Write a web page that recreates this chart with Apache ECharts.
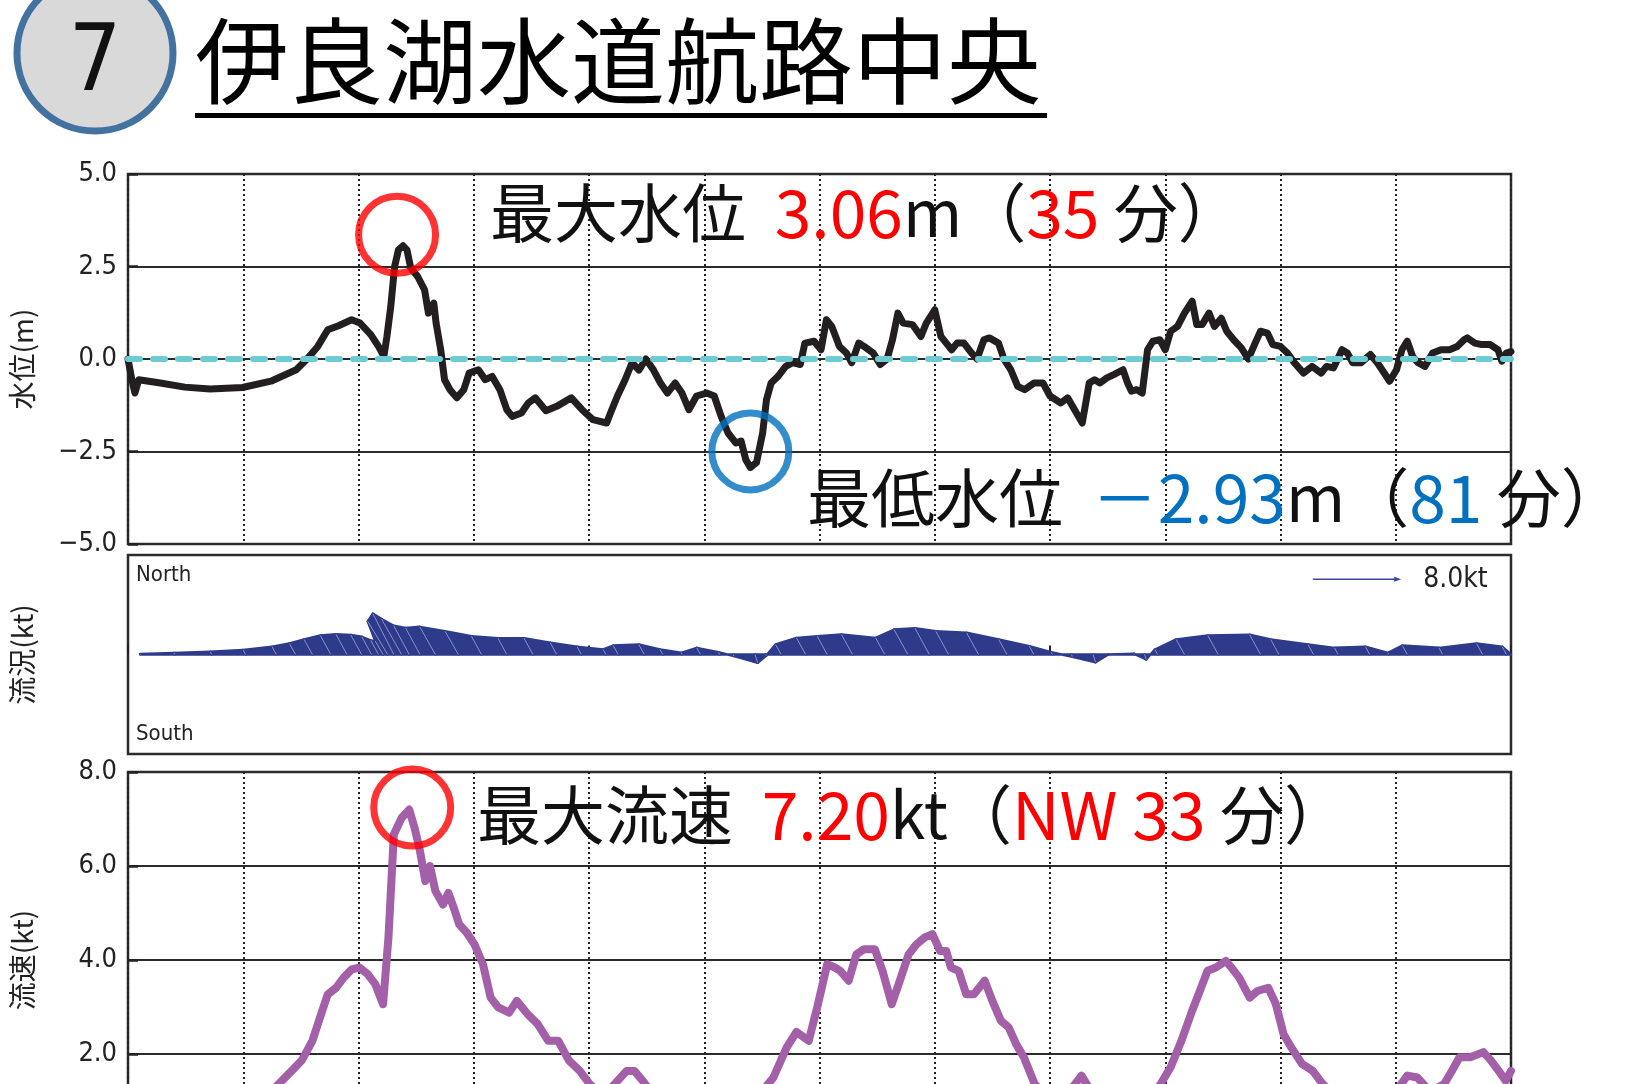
<!DOCTYPE html>
<html>
<head>
<meta charset="utf-8">
<title>伊良湖水道航路中央</title>
<script src="https://cdn.jsdelivr.net/npm/echarts@6/dist/echarts.min.js"></script>
<style>
  html, body { margin: 0; padding: 0; background: #fff; overflow: hidden; }
  #wrap { width: 1633px; height: 1084px; overflow: hidden; }
  #chart { width: 1633px; height: 1200px; }
</style>
</head>
<body>
<div id="wrap"><div id="chart"></div></div>
<script>
// 水位 (m) 経過時間(分)
const levelMinutes = [0, 0.5, 0.9, 1.4, 4.2, 7.4, 10.7, 14.9, 18.6, 21.9,
  23.3, 24.7, 26, 27.4, 29.1, 30.2, 31.6, 32.6, 33.3, 33.7,
  34.2, 34.7, 35.2, 35.8, 36.3, 36.8, 37.7, 38.6, 39.1, 39.8,
  40.1, 40.7, 41.2, 41.9, 42.8, 43.7, 44.4, 45.6, 46.5, 47.4,
  48.4, 49.3, 50, 51.2, 52.1, 53, 54.4, 55.8, 57.7, 59.1,
  60.5, 62.3, 62.8, 63.7, 64.7, 65.6, 66.5, 67.4, 68.4, 69.3,
  70.2, 71.2, 72.1, 73, 74, 75.3, 76.3, 77.2, 78.1, 79.1,
  79.8, 80.4, 81, 81.8, 82.6, 83.1, 83.7, 84.6, 85.6, 86.5,
  87.5, 88.1, 89.3, 90.2, 90.9, 91.6, 92.6, 93.5, 94.2, 95.1,
  95.8, 97, 97.9, 98.8, 99.5, 100.2, 100.9, 102.1, 103.2, 103.9,
  105, 105.8, 106.5, 107.2, 107.9, 108.8, 109.8, 110.5, 111.4, 112.1,
  113.3, 114, 114.9, 115.8, 116.7, 117.9, 119.1, 120, 121.4, 122.3,
  123.2, 124.2, 125.1, 125.8, 126.5, 127.4, 128.3, 129.5, 130.1, 130.6,
  131.3, 132, 132.7, 133.4, 134.3, 135, 135.7, 136.6, 137.5, 138.5,
  139.1, 139.8, 140.7, 141.4, 142.3, 143, 143.9, 144.9, 145.8, 146.7,
  147.4, 148.3, 149, 150, 150.9, 151.8, 153, 154.1, 155.3, 156,
  156.9, 158, 158.7, 159.4, 160.5, 161.7, 162.6, 163.5, 164.2, 165.1,
  165.8, 166.5, 167.2, 167.9, 168.8, 169.8, 170.9, 172, 173, 173.9,
  174.3, 175.3, 176.2, 177.3, 178.3, 178.8, 179.4, 180];
const levelMeters = [0, -0.56, -0.92, -0.56, -0.65, -0.76, -0.81, -0.77, -0.6, -0.29,
  0, 0.34, 0.79, 0.9, 1.06, 0.97, 0.66, 0.34, 0.07, 0.61,
  1.42, 2.5, 2.95, 3.06, 2.95, 2.46, 2.23, 1.87, 1.24, 1.51,
  0.97, 0.25, -0.56, -0.83, -1.05, -0.83, -0.38, -0.29, -0.56, -0.47,
  -0.83, -1.37, -1.55, -1.46, -1.19, -1.05, -1.4, -1.28, -1.05, -1.37,
  -1.64, -1.73, -1.46, -1.0, -0.56, -0.1, -0.3, 0, -0.3, -0.65,
  -0.92, -0.65, -0.92, -1.37, -1.0, -0.92, -1.0, -1.55, -2.0, -2.27,
  -2.22, -2.72, -2.93, -2.8, -2.0, -1.1, -0.65, -0.47, -0.2, -0.1,
  -0.15, 0.43, 0.48, 0.25, 1.06, 0.88, 0.34, 0.16, -0.1, 0.43,
  0.34, 0.16, -0.15, 0, 0.52, 1.24, 0.97, 0.93, 0.61, 0.97,
  1.33, 0.61, 0.43, 0.25, 0.43, 0.43, 0.16, 0, 0.52, 0.57,
  0.43, 0, -0.29, -0.74, -0.83, -0.65, -0.65, -1.0, -1.19, -1.05,
  -1.37, -1.73, -0.65, -0.56, -0.65, -0.51, -0.42, -0.29, -0.65, -0.87,
  -0.83, -0.92, 0.25, 0.48, 0.52, 0.25, 0.75, 0.88, 1.24, 1.56,
  0.93, 0.93, 1.24, 0.88, 1.1, 0.75, 0.52, 0.3, 0, 0.43,
  0.75, 0.7, 0.39, 0.34, 0.16, -0.1, -0.38, -0.2, -0.38, -0.2,
  -0.24, 0.25, 0.16, -0.1, -0.1, 0.12, -0.1, -0.38, -0.6, -0.29,
  0.25, 0.48, 0.07, -0.1, -0.2, 0.16, 0.25, 0.25, 0.34, 0.52,
  0.57, 0.43, 0.39, 0.39, 0.25, -0.06, 0.16, 0.2];

// 流速 (kt)
const speedMinutes = [0, 3, 6, 9, 12, 15, 18, 19.6, 21.3, 22.6,
  24, 25, 26, 27.1, 28.1, 29.1, 30.1, 31.2, 32.2, 33.2,
  33.9, 34.6, 35.6, 36.6, 37.3, 38, 38.7, 39.3, 40, 41,
  41.7, 42.4, 43.1, 44.1, 45.1, 46.2, 47.2, 48.2, 49.6, 50.6,
  52, 53.3, 54.7, 56, 57.4, 58.8, 60.1, 61.5, 63, 64.9,
  65.9, 67, 68.5, 70, 72, 74, 76, 78, 80, 81.3,
  82.5, 84, 85.7, 87, 88.6, 89.7, 91, 92, 92.7, 93.8,
  94.8, 95.8, 97.2, 98.2, 99.4, 100.6, 101.6, 102.6, 103.7, 104.7,
  105.7, 106.5, 107.1, 108.1, 109.1, 110.1, 111.5, 112.5, 113.6, 114.6,
  115.6, 116.6, 118, 119.5, 121, 122.5, 124.1, 125, 127, 129,
  131, 133, 134.4, 135.7, 137.1, 138.5, 139.5, 140.5, 141.6, 142.9,
  143.6, 144.6, 146, 147, 148.4, 149.4, 150.4, 151.4, 152.8, 154.2,
  155.5, 157, 159, 161, 163, 165, 166.5, 167.8, 169.5, 171.3,
  172.3, 173.3, 174.7, 176.4, 177.4, 178.4, 179.3, 180];
const speedKnots = [0.4, 0.5, 0.6, 0.7, 0.8, 0.9, 1.1, 1.36, 1.64, 1.86,
  2.28, 2.78, 3.27, 3.41, 3.63, 3.8, 3.84, 3.7, 3.48, 3.06,
  4.48, 6.67, 7.02, 7.2, 6.81, 6.32, 5.68, 6.0, 5.47, 5.18,
  5.43, 5.11, 4.76, 4.58, 4.33, 3.91, 3.2, 2.99, 2.88, 3.13,
  2.85, 2.64, 2.28, 2.28, 1.86, 1.64, 1.36, 1.15, 1.3, 1.64,
  1.64, 1.43, 1.1, 0.9, 0.7, 0.6, 0.5, 0.6, 0.8, 1.0,
  1.2, 1.5, 2.13, 2.47, 2.28, 2.99, 3.91, 3.84, 3.77, 3.56,
  4.12, 4.23, 4.23, 3.77, 3.06, 3.63, 4.12, 4.33, 4.48, 4.55,
  4.19, 4.19, 3.84, 3.77, 3.27, 3.27, 3.56, 3.13, 2.71, 2.57,
  2.21, 1.93, 1.36, 1.1, 1.0, 1.2, 1.54, 1.3, 1.0, 0.9,
  0.9, 1.1, 1.36, 1.72, 2.28, 2.92, 3.34, 3.77, 3.84, 3.98,
  3.84, 3.63, 3.2, 3.34, 3.41, 3.06, 2.42, 2.14, 1.79, 1.64,
  1.36, 1.1, 0.9, 0.8, 0.9, 1.2, 1.54, 1.5, 1.2, 1.36,
  1.64, 1.93, 1.93, 2.04, 1.86, 1.64, 1.43, 1.64];

// 流況 stick (北向き成分, 東向き成分 kt)
const flowMinutes = [1.6, 6.1, 10.9, 15.3, 19.3, 21.8, 24.0, 26.4, 28.5, 30.4,
  31.7, 32.6, 33.2, 33.8, 34.6, 35.6, 36.6, 38, 40, 43,
  46, 49.3, 52.7, 55.8, 59, 62.2, 63.8, 67.2, 69.6, 72.1,
  74.5, 77, 78.8, 81.6, 83, 85, 88.2, 91, 94.3, 98.5,
  101.5, 104.3, 106.8, 110.7, 114.4, 117.9, 120.3, 122.8, 125.6, 127.6,
  131, 132.3, 134, 137.5, 141.9, 147.4, 149.8, 154.3, 157.5, 161.6,
  164.1, 166.5, 171.1, 176.3, 179.4, 180];
const flowNorth = [0.05, 0.14, 0.24, 0.41, 0.7, 1.0, 1.36, 1.72, 1.84, 1.76,
  1.6, 1.27, 1.2, 3.0, 3.7, 3.2, 2.6, 2.4, 2.5, 2.1,
  1.65, 1.47, 1.47, 1.06, 0.7, 0.45, 0.81, 0.9, 0.45, 0.15,
  0.6, 0.2, -0.15, -0.75, -0.1, 0.9, 1.5, 1.65, 1.8, 1.5,
  2.26, 2.38, 2.1, 1.96, 1.36, 0.75, 0.2, -0.2, -0.7, 0.0,
  0.06, -0.45, 0.45, 1.36, 1.72, 1.78, 1.36, 0.9, 0.6, 0.7,
  0.15, 0.81, 0.6, 1.0, 0.7, 0.0];
const flowEast = [-0.03, -0.08, -0.13, -0.22, -0.38, -0.55, -0.75, -0.95, -1.0, -0.97,
  -0.88, -0.7, -0.7, -1.8, -1.9, -1.8, -1.4, -1.3, -1.4, -1.2,
  -0.9, -0.8, -0.8, -0.58, -0.38, -0.25, -0.45, -0.5, -0.25, -0.08,
  -0.33, -0.1, 0.05, 0.25, 0.05, -0.5, -0.83, -0.9, -1.0, -0.83,
  -1.25, -1.3, -1.15, -1.08, -0.75, -0.41, -0.1, 0.07, 0.23, 0,
  -0.03, 0.15, -0.25, -0.75, -0.95, -0.98, -0.75, -0.5, -0.33, -0.38,
  -0.08, -0.45, -0.33, -0.55, -0.38, 0];

// 凡例矢印 (分, 位置 kt, 長さ kt)
const scaleArrow = [154.2, 6.8, 8.0];

// 注記
const noteLevelMax = ['3.06', '35'];
const noteLevelMin = ['2.93', '81'];
const noteSpeedMax = ['7.20', 'NW', '33'];

const NARROW = "'Liberation Sans Narrow','DejaVu Sans Condensed','Liberation Sans',sans-serif";
const JP = "'Noto Sans CJK JP',sans-serif";
const NAVY = '#2e3a8a';

const zip = (a, b) => a.map((v, i) => [v, b[i]]);

const iMax = levelMeters.indexOf(Math.max(...levelMeters));
const iMin = levelMeters.indexOf(Math.min(...levelMeters));
const iSpd = speedKnots.indexOf(Math.max(...speedKnots));

const minusFmt = v => (v < 0 ? '\u2212' : '') + Math.abs(v).toFixed(1);

function xAxisDotted(gridIndex) {
  return {
    gridIndex, type: 'value', min: 0, max: 180, interval: 15,
    axisLine: { show: false }, axisTick: { show: false }, axisLabel: { show: false },
    splitLine: { show: true, lineStyle: { color: '#222', width: 2, type: [2, 3] } }
  };
}

function yAxisValue(gridIndex, min, max, interval, name) {
  return {
    gridIndex, type: 'value', min, max, interval,
    name, nameLocation: 'middle', nameGap: 92, nameRotate: 90,
    nameTextStyle: { fontFamily: JP, fontSize: 28, color: '#222' },
    axisLine: { show: false },
    axisTick: { show: true, inside: true, length: 10, lineStyle: { color: '#222', width: 2.5 } },
    axisLabel: { fontFamily: NARROW, fontSize: 27, color: '#222', margin: 11, formatter: minusFmt },
    splitLine: { show: true, lineStyle: { color: '#2b2b2b', width: 2 } }
  };
}

const chart = echarts.init(document.getElementById('chart'));

const option = {
  backgroundColor: '#fff',
  animation: false,
  grid: [
    { left: 128, top: 174, width: 1383, height: 370, show: true, borderColor: '#2b2b2b', borderWidth: 2.5 },
    { left: 128, top: 555, width: 1383, height: 199, show: true, borderColor: '#2b2b2b', borderWidth: 2.5 },
    { left: 128, top: 772, width: 1383, height: 376, show: true, borderColor: '#2b2b2b', borderWidth: 2.5 }
  ],
  xAxis: [
    xAxisDotted(0),
    {
      gridIndex: 1, type: 'value', min: 0, max: 180, interval: 30,
      axisLine: { show: false }, axisLabel: { show: false }, splitLine: { show: false },
      axisTick: { show: true, inside: true, length: 9, lineStyle: { color: '#222', width: 2 } },
      minorTick: { show: true, splitNumber: 2, length: 5, lineStyle: { color: '#222', width: 2 } }
    },
    xAxisDotted(2)
  ],
  yAxis: [
    yAxisValue(0, -5, 5, 2.5, '水位(m)'),
    {
      gridIndex: 1, type: 'value', min: -9, max: 9,
      name: '流況(kt)', nameLocation: 'middle', nameGap: 92, nameRotate: 90,
      nameTextStyle: { fontFamily: JP, fontSize: 28, color: '#222' },
      axisLine: { show: false }, axisTick: { show: false }, axisLabel: { show: false },
      splitLine: { show: false }
    },
    yAxisValue(2, 0, 8, 2, '流速(kt)')
  ],
  series: [
    {
      name: '水位', type: 'line', xAxisIndex: 0, yAxisIndex: 0,
      data: zip(levelMinutes, levelMeters), symbol: 'none', z: 3,
      lineStyle: { color: '#231f20', width: 7, join: 'round', cap: 'round' },
      markLine: {
        silent: true, symbol: ['none', 'none'], label: { show: false },
        lineStyle: { color: '#6ecbd3', width: 6, type: [12, 13], cap: 'round' },
        data: [{ yAxis: 0 }]
      }
    },
    {
      type: 'scatter', xAxisIndex: 0, yAxisIndex: 0, symbol: 'circle', symbolSize: 77,
      silent: true, z: 5,
      itemStyle: { color: 'rgba(0,0,0,0)', borderWidth: 7 },
      data: [
        { value: [levelMinutes[iMax], levelMeters[iMax]], symbolOffset: [-6, -11], itemStyle: { borderColor: '#ff0000' } },
        { value: [levelMinutes[iMin], levelMeters[iMin]], symbolOffset: [0, -16], itemStyle: { borderColor: '#0070c0' } }
      ]
    },
    {
      name: '流況', type: 'custom', xAxisIndex: 1, yAxisIndex: 1, silent: true,
      data: flowMinutes.map((t, i) => [t, flowNorth[i], flowEast[i]]),
      encode: { x: 0, y: 1 },
      renderItem: function (params, api) {
        const i = params.dataIndex;
        const k = api.size([0, 1])[1];
        const base = api.coord([api.value(0), 0]);
        const tip = [base[0] + api.value(2) * k, base[1] - api.value(1) * k];
        const children = [];
        if (i < flowMinutes.length - 1) {
          const base2 = api.coord([flowMinutes[i + 1], 0]);
          const tip2 = [base2[0] + flowEast[i + 1] * k, base2[1] - flowNorth[i + 1] * k];
          children.push({
            type: 'polygon', shape: { points: [base, tip, tip2, base2] },
            style: { fill: NAVY, stroke: NAVY, lineWidth: 2.5, lineJoin: 'round' }
          });
        }
        children.push({
          type: 'line', z2: 2, shape: { x1: base[0], y1: base[1], x2: tip[0], y2: tip[1] },
          style: { stroke: '#8a93c8', lineWidth: 1 }
        });
        return { type: 'group', children };
      }
    },
    {
      type: 'custom', xAxisIndex: 1, yAxisIndex: 1, silent: true,
      data: [scaleArrow],
      renderItem: function (params, api) {
        const k = api.size([0, 1])[1];
        const p = api.coord([api.value(0), api.value(1)]);
        const len = api.value(2) * k;
        return {
          type: 'group',
          children: [
            { type: 'line', shape: { x1: p[0], y1: p[1], x2: p[0] + len - 4, y2: p[1] },
              style: { stroke: '#3b4a9e', lineWidth: 1.5 } },
            { type: 'polygon', shape: { points: [[p[0] + len, p[1]], [p[0] + len - 7, p[1] - 2.5], [p[0] + len - 7, p[1] + 2.5]] },
              style: { fill: '#3b4a9e' } },
            { type: 'text', x: p[0] + len + 22, y: p[1],
              style: { text: api.value(2).toFixed(1) + 'kt', fontFamily: NARROW, fontSize: 28, fill: '#222', verticalAlign: 'middle' } }
          ]
        };
      }
    },
    {
      name: '流速', type: 'line', xAxisIndex: 2, yAxisIndex: 2,
      data: zip(speedMinutes, speedKnots), symbol: 'none', z: 3,
      lineStyle: { color: '#a35fa8', width: 8, join: 'round', cap: 'round' }
    },
    {
      type: 'scatter', xAxisIndex: 2, yAxisIndex: 2, symbol: 'circle', symbolSize: 77,
      silent: true, z: 5,
      itemStyle: { color: 'rgba(0,0,0,0)', borderWidth: 7, borderColor: '#ff0000' },
      data: [{ value: [speedMinutes[iSpd], speedKnots[iSpd]], symbolOffset: [3, -2] }]
    }
  ],
  graphic: [
    { type: 'circle', shape: { cx: 95, cy: 53, r: 78 }, style: { fill: '#d9d9d9', stroke: '#4472a0', lineWidth: 7 } },
    { type: 'text', x: 95, y: 66, style: { text: '7', fontFamily: NARROW, fontSize: 92, fill: '#111', align: 'center', verticalAlign: 'middle' } },
    { type: 'text', x: 195, y: 61, style: { text: '伊良湖水道航路中央', fontFamily: JP, fontSize: 94, fill: '#000', verticalAlign: 'middle' } },
    { type: 'rect', shape: { x: 195, y: 113, width: 852, height: 5 }, style: { fill: '#000' } },
    {
      type: 'text', x: 490, y: 213, z: 10,
      style: {
        text: '{k|最大水位  }{r|' + noteLevelMax[0] + '}{k|m（}{r|' + noteLevelMax[1] + '}{k| 分）}',
        verticalAlign: 'middle',
        rich: {
          k: { fill: '#111', fontSize: 64, fontFamily: JP },
          r: { fill: '#ff0000', fontSize: 66, fontFamily: JP }
        }
      }
    },
    {
      type: 'text', x: 807, y: 498, z: 10,
      style: {
        text: '{k|最低水位  }{b|－' + noteLevelMin[0] + '}{k|m（}{b|' + noteLevelMin[1] + '}{k| 分）}',
        verticalAlign: 'middle',
        rich: {
          k: { fill: '#111', fontSize: 64, fontFamily: JP },
          b: { fill: '#0070c0', fontSize: 66, fontFamily: JP }
        }
      }
    },
    {
      type: 'text', x: 477, y: 815, z: 10,
      style: {
        text: '{k|最大流速  }{r|' + noteSpeedMax[0] + '}{k|kt（}{r|' + noteSpeedMax[1] + ' ' + noteSpeedMax[2] + '}{k| 分）}',
        verticalAlign: 'middle',
        rich: {
          k: { fill: '#111', fontSize: 64, fontFamily: JP },
          r: { fill: '#ff0000', fontSize: 66, fontFamily: JP }
        }
      }
    },
    { type: 'text', x: 136, y: 575, style: { text: 'North', fontFamily: NARROW, fontSize: 22, fill: '#222', verticalAlign: 'middle' } },
    { type: 'text', x: 136, y: 734, style: { text: 'South', fontFamily: NARROW, fontSize: 22, fill: '#222', verticalAlign: 'middle' } }
  ]
};

chart.setOption(option);
</script>
</body>
</html>
